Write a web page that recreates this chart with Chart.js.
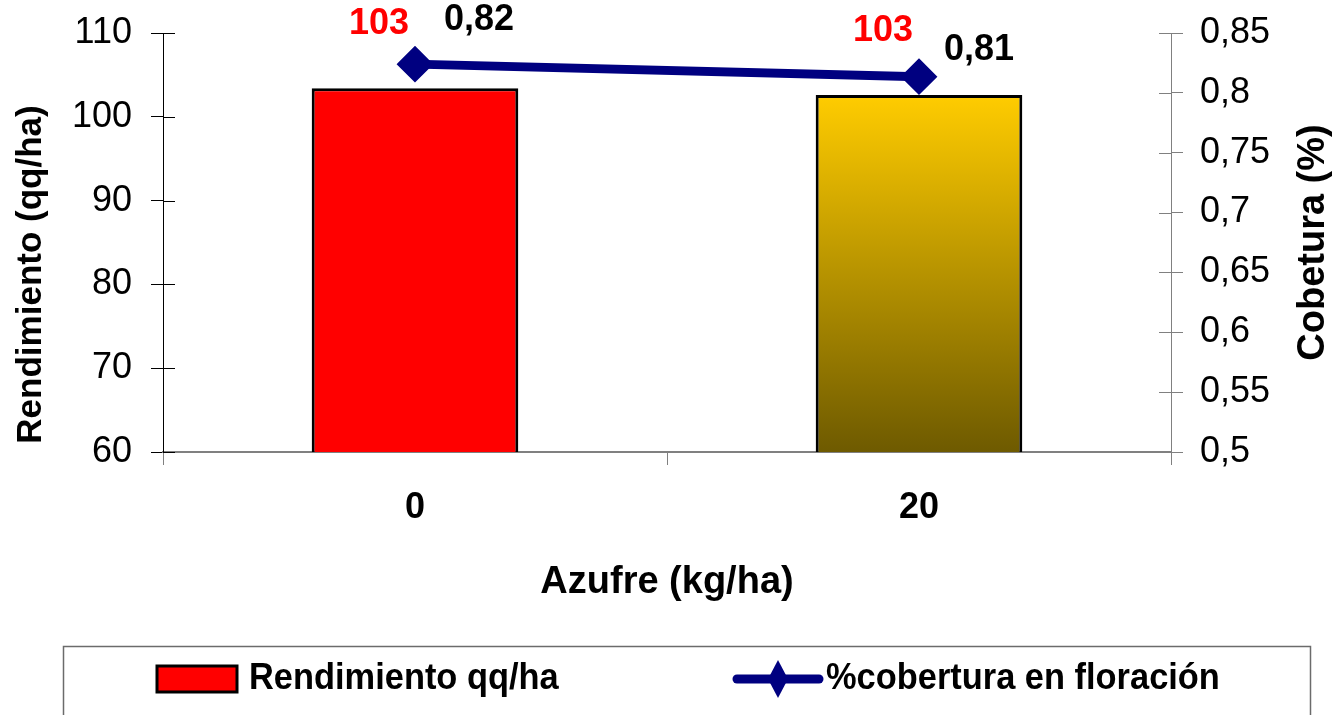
<!DOCTYPE html>
<html>
<head>
<meta charset="utf-8">
<script src="https://cdn.jsdelivr.net/npm/chart.js@4"></script>
<style>
    html, body { margin: 0; padding: 0; background: #fff; }
    #wrap { width: 1337px; height: 715px; position: relative; }
</style>
</head>
<body>
<div id="wrap"><canvas id="azufreChart"></canvas></div>
<script>
'use strict';

// Data
const categories = ['0', '20'];
const yieldValues = [103.4, 102.6];      // Rendimiento qq/ha
const coverValues = [0.824, 0.8135];     // % cobertura en floración
const seriesNames = ['Rendimiento qq/ha', '%cobertura en floración'];
const yieldRange = [60, 110, 10];
const coverRange = [0.5, 0.85, 0.05];

const FONT = '"Liberation Sans", Arial, sans-serif';
const NAVY = '#000080';

const commaNum = v => String(Math.round(v * 100) / 100).replace('.', ',');

// Gradient of the second bar (gold -> dark olive)
function barColor(context) {
    if (context.dataIndex === 0) return '#FF0000';
    const chart = context.chart;
    const area = chart.chartArea;
    if (!area) return '#FFCC00';
    const top = chart.scales.y.getPixelForValue(context.raw);
    const g = chart.ctx.createLinearGradient(0, top, 0, area.bottom);
    g.addColorStop(0, '#FFCC00');
    g.addColorStop(1, '#6E5A00');
    return g;
}

// fixed width of a vertical axis, no extra padding
const fixWidth = w => s => {
    s.width = w;
    s.paddingTop = 0;
    s.paddingBottom = 0;
};

// Vertical text helper (bottom -> top)
function upText(ctx, text, x, y, font) {
    ctx.save();
    ctx.translate(x, y);
    ctx.rotate(-Math.PI / 2);
    ctx.font = font;
    ctx.fillStyle = '#000';
    ctx.textAlign = 'center';
    ctx.textBaseline = 'middle';
    ctx.fillText(text, 0, 0);
    ctx.restore();
}

// Inner halves of the cross ticks + axis titles
const axisExtras = {
    id: 'axisExtras',
    afterDraw: (chart) => {
        const ctx = chart.ctx;
        const area = chart.chartArea;
        ctx.save();
        [['y', '#000', 1], ['y1', '#808080', -1]].forEach(([id, color, dir]) => {
            const scale = chart.scales[id];
            const x0 = dir > 0 ? area.left : area.right;
            ctx.strokeStyle = color;
            ctx.lineWidth = 1;
            scale.ticks.forEach(t => {
                const py = Math.round(scale.getPixelForValue(t.value)) + 0.5;
                ctx.beginPath();
                ctx.moveTo(x0, py);
                ctx.lineTo(x0 + dir * 12, py);
                ctx.stroke();
            });
        });
        ctx.restore();

        const midY = (area.top + area.bottom) / 2;
        upText(ctx, 'Rendimiento (qq/ha)', 31, midY + 32, `bold 35px ${FONT}`);
        upText(ctx, 'Cobetura (%)', chart.width - 23, midY, `bold 38px ${FONT}`);
    }
};

// Etiquetas de datos
const valueLabels = {
    id: 'valueLabels',
    afterDatasetsDraw: (chart, args, opts) => {
        const ctx = chart.ctx;
        ctx.save();
        ctx.font = `bold 36px ${FONT}`;
        ctx.textAlign = 'center';
        ctx.textBaseline = 'middle';

        chart.getDatasetMeta(1).data.forEach((bar, i) => {
            ctx.fillStyle = '#FF0000';
            ctx.fillText(Math.round(yieldValues[i]), bar.x - 36, bar.y - 64);
        });

        chart.getDatasetMeta(0).data.forEach((pt, i) => {
            const [dx, dy] = opts.lineOffsets[i];
            ctx.fillStyle = '#000';
            ctx.fillText(coverValues[i].toFixed(2).replace('.', ','), pt.x + dx, pt.y + dy);
        });
        ctx.restore();
    }
};

// Leyenda con marco
const boxLegend = {
    id: 'boxLegend',
    afterDraw: (chart) => {
        const ctx = chart.ctx;
        const cy = 679;
        ctx.save();
        ctx.strokeStyle = '#6b6b6b';
        ctx.lineWidth = 1.5;
        ctx.strokeRect(63.5, 646.5, 1247, 90);

        // Rendimiento
        ctx.fillStyle = '#FF0000';
        ctx.fillRect(157, cy - 13, 80, 26);
        ctx.strokeStyle = '#000';
        ctx.lineWidth = 3;
        ctx.strokeRect(157, cy - 13, 80, 26);

        // Cobertura
        ctx.strokeStyle = NAVY;
        ctx.lineWidth = 9;
        ctx.lineCap = 'round';
        ctx.beginPath();
        ctx.moveTo(737, cy);
        ctx.lineTo(819, cy);
        ctx.stroke();
        ctx.fillStyle = NAVY;
        ctx.beginPath();
        ctx.moveTo(778, cy - 19);
        ctx.lineTo(788, cy);
        ctx.lineTo(778, cy + 19);
        ctx.lineTo(768, cy);
        ctx.closePath();
        ctx.fill();

        // Texto algo condensado, como en el original
        ctx.fillStyle = '#000';
        ctx.font = `bold 37px ${FONT}`;
        ctx.textBaseline = 'middle';
        [[seriesNames[0], 249], [seriesNames[1], 826]].forEach(([txt, x]) => {
            ctx.save();
            ctx.translate(x, cy);
            ctx.scale(0.93, 1);
            ctx.fillText(txt, 0, 0);
            ctx.restore();
        });
        ctx.restore();
    }
};

const ctx = document.getElementById('azufreChart').getContext('2d');

new Chart(ctx, {
    data: {
        labels: categories,
        datasets: [{
            type: 'line',
            label: seriesNames[1],
            data: coverValues,
            yAxisID: 'y1',
            order: 0,
            borderColor: NAVY,
            borderWidth: 9,
            tension: 0,
            pointStyle: 'rectRot',
            pointRadius: 17,
            pointBorderWidth: 2,
            pointBackgroundColor: NAVY,
            pointBorderColor: NAVY
        }, {
            type: 'bar',
            label: seriesNames[0],
            data: yieldValues,
            yAxisID: 'y',
            order: 1,
            backgroundColor: barColor,
            borderColor: '#000',
            borderWidth: 3,
            categoryPercentage: 1,
            barPercentage: 0.41
        }]
    },
    options: {
        responsive: true,
        maintainAspectRatio: false,
        animation: false,
        layout: {
            padding: { top: 33, bottom: 105, left: 0, right: 0 }
        },
        scales: {
            x: {
                afterFit: s => { s.height = 158; },
                grid: {
                    offset: true,
                    drawOnChartArea: false,
                    tickLength: 13,
                    color: '#808080'
                },
                border: { color: '#808080', width: 2 },
                ticks: {
                    color: '#000',
                    padding: 21,
                    font: { family: FONT, size: 36, weight: 'bold' }
                },
                title: {
                    display: true,
                    text: 'Azufre (kg/ha)',
                    color: '#000',
                    padding: { top: 0, bottom: 5 },
                    font: { family: FONT, size: 38, weight: 'bold' }
                }
            },
            y: {
                position: 'left',
                min: yieldRange[0],
                max: yieldRange[1],
                afterFit: fixWidth(163),
                grid: {
                    drawOnChartArea: false,
                    tickLength: 12,
                    color: '#000'
                },
                border: { color: '#000', width: 1 },
                ticks: {
                    stepSize: yieldRange[2],
                    color: '#000',
                    padding: 19,
                    font: { family: FONT, size: 36 }
                }
            },
            y1: {
                position: 'right',
                min: coverRange[0],
                max: coverRange[1],
                afterFit: fixWidth(166),
                grid: {
                    drawOnChartArea: false,
                    tickLength: 12,
                    color: '#808080'
                },
                border: { color: '#808080', width: 1 },
                ticks: {
                    stepSize: coverRange[2],
                    color: '#000',
                    padding: 17,
                    callback: v => commaNum(v),
                    font: { family: FONT, size: 36 }
                }
            }
        },
        plugins: {
            legend: { display: false },
            tooltip: { enabled: false },
            valueLabels: { lineOffsets: [[64, -44], [60, -27]] }
        }
    },
    plugins: [axisExtras, valueLabels, boxLegend]
});
</script>
</body>
</html>
